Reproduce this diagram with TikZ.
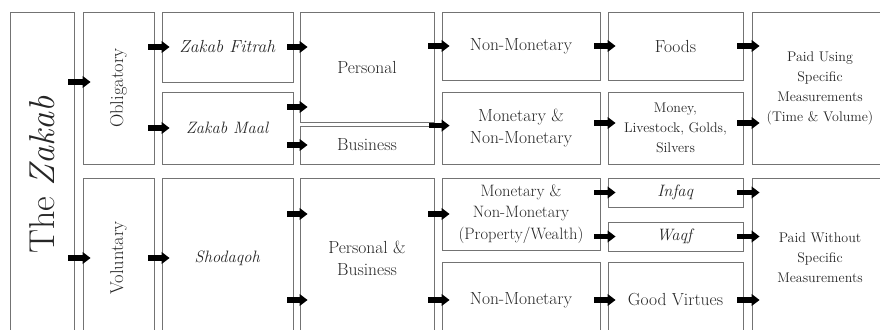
\documentclass[tikz,border=0pt]{standalone}
\usetikzlibrary{arrows.meta}
\begin{document}
\begin{tikzpicture}[x=1pt,y=-1pt,
  box/.style={draw=black!55, line width=0.8pt, inner sep=0pt, align=center, text=black!85, font=\fontsize{17.5}{22}\selectfont},
  small/.style={font=\fontsize{14}{20}\selectfont},
  mid/.style={font=\fontsize{16.5}{21.5}\selectfont},
  side/.style={font=\fontsize{18.5}{22}\selectfont},
  arr/.style={line width=5.5pt, -{Triangle[length=8pt,width=11.5pt]}}]
\clip (0,0) rectangle (880,329);
% columns, left to right
\node[box, minimum width=64pt, minimum height=326pt, font=\fontsize{36}{40}\selectfont] (zak) at (42,175){\rotatebox{90}{The \textit{Zakab}}};
\node[box, side, minimum width=71pt, minimum height=152pt] (obl) at (118.5,88){\rotatebox{90}{Obligatory}};
\node[box, side, minimum width=71pt, minimum height=160pt] (vol) at (118.5,258){\rotatebox{90}{Voluntary}};
\node[box, minimum width=131pt, minimum height=70pt] (fit) at (227.5,47){\textit{Zakab Fitrah}};
\node[box, mid, minimum width=131pt, minimum height=72pt] (maal) at (227.5,128){\textit{Zakab Maal}};
\node[box, mid, minimum width=131pt, minimum height=160pt] (shod) at (227.5,258){\textit{Shodaqoh}};
\node[box, minimum width=134pt, minimum height=110pt] (pers) at (367,67){Personal};
\node[box, minimum width=134pt, minimum height=38pt] (bus) at (367,145){Business};
\node[box, minimum width=134pt, minimum height=160pt] (pb) at (367,258){Personal \&\\Business};
\node[box, minimum width=158pt, minimum height=68pt] (nm1) at (521,46){Non-Monetary};
\node[box, minimum width=158pt, minimum height=72pt] (mnm) at (521,128){Monetary \&\\Non-Monetary};
\node[box, mid, minimum width=158pt, minimum height=72pt] (mnmp) at (521,214){Monetary \&\\Non-Monetary\\(Property/Wealth)};
\node[box, minimum width=158pt, minimum height=76pt] (nm2) at (521,300){Non-Monetary};
\node[box, minimum width=135pt, minimum height=68pt] (food) at (675.5,46){Foods};
\node[box, small, minimum width=135pt, minimum height=72pt] (money) at (675.5,128){Money,\\Livestock, Golds,\\Silvers};
\node[box, mid, minimum width=135pt, minimum height=29pt] (infaq) at (675.5,192.5){\textit{Infaq}};
\node[box, mid, minimum width=135pt, minimum height=29pt] (waqf) at (675.5,236.5){\textit{Waqf}};
\node[box, minimum width=135pt, minimum height=76pt] (good) at (675.5,300){Good Virtues};
\node[box, small, minimum width=136pt, minimum height=152pt] (paid1) at (820,88){Paid Using\\Specific\\Measurements\\(Time \& Volume)};
\node[box, small, minimum width=136pt, minimum height=160pt] (paid2) at (820,258){Paid Without\\Specific\\Measurements};
% arrows
\draw[arr] ([xshift=-6pt,yshift=6pt]zak.east |- obl.west) -- ([xshift=8pt,yshift=6pt]obl.west);
\draw[arr] ([xshift=-6pt]zak.east |- vol.west) -- ([xshift=8pt]vol.west);
\draw[arr] ([xshift=-6pt]obl.east |- fit.west) -- ([xshift=8pt]fit.west);
\draw[arr] ([xshift=-6pt]obl.east |- maal.west) -- ([xshift=8pt]maal.west);
\draw[arr] ([xshift=-6pt]vol.east |- shod.west) -- ([xshift=8pt]shod.west);
\draw[arr] ([xshift=-6pt]fit.east) -- ([xshift=8pt]pers.west |- fit.east);
\draw[arr] ([xshift=-6pt,yshift=21pt]maal.east) -- ([xshift=8pt,yshift=21pt]pers.west |- maal.east);
\draw[arr] ([xshift=-6pt]maal.east |- bus.west) -- ([xshift=8pt]bus.west);
\draw[arr] ([xshift=-6pt]shod.east |- mnmp.west) -- ([xshift=8pt]pb.west |- mnmp.west);
\draw[arr] ([xshift=-6pt]shod.east |- nm2.west) -- ([xshift=8pt]pb.west |- nm2.west);
\draw[arr] ([xshift=-6pt]pers.east |- nm1.west) -- ([xshift=8pt]nm1.west);
\draw[arr] ([xshift=-5pt]bus.north east) -- ([xshift=8pt]mnm.west |- bus.north);
\draw[arr] ([xshift=-6pt]pb.east |- mnmp.west) -- ([xshift=8pt]mnmp.west);
\draw[arr] ([xshift=-6pt]pb.east |- nm2.west) -- ([xshift=8pt]nm2.west);
\draw[arr] ([xshift=-6pt]nm1.east) -- ([xshift=8pt]food.west);
\draw[arr] ([xshift=-6pt,yshift=5pt]mnm.east) -- ([xshift=8pt,yshift=5pt]money.west);
\draw[arr] ([xshift=-6pt]mnmp.east |- infaq.west) -- ([xshift=8pt]infaq.west);
\draw[arr] ([xshift=-6pt]mnmp.east |- waqf.west) -- ([xshift=8pt]waqf.west);
\draw[arr] ([xshift=-6pt]nm2.east) -- ([xshift=8pt]good.west);
\draw[arr] ([xshift=-6pt]food.east) -- ([xshift=8pt]paid1.west |- food.east);
\draw[arr] ([xshift=-6pt,yshift=5pt]money.east) -- ([xshift=8pt,yshift=5pt]paid1.west |- money.east);
\draw[arr] ([xshift=-6pt]infaq.east) -- ([xshift=8pt]paid2.west |- infaq.east);
\draw[arr] ([xshift=-6pt]waqf.east) -- ([xshift=8pt]paid2.west |- waqf.east);
\draw[arr] ([xshift=-6pt]good.east) -- ([xshift=8pt]paid2.west |- good.east);
\end{tikzpicture}
\end{document}
